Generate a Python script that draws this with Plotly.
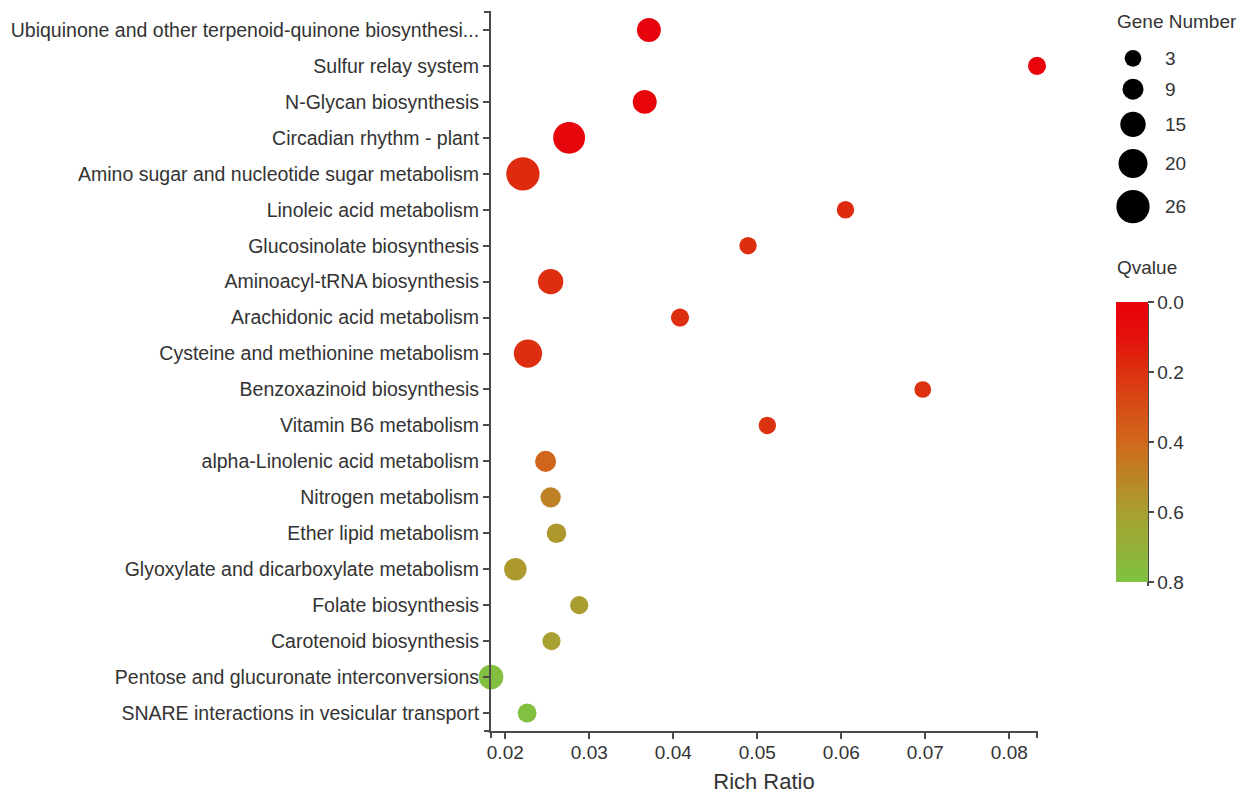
import plotly.graph_objects as go

# ---------------- data ----------------
pathways = [
    "Ubiquinone and other terpenoid-quinone biosynthesi...",
    "Sulfur relay system",
    "N-Glycan biosynthesis",
    "Circadian rhythm - plant",
    "Amino sugar and nucleotide sugar metabolism",
    "Linoleic acid metabolism",
    "Glucosinolate biosynthesis",
    "Aminoacyl-tRNA biosynthesis",
    "Arachidonic acid metabolism",
    "Cysteine and methionine metabolism",
    "Benzoxazinoid biosynthesis",
    "Vitamin B6 metabolism",
    "alpha-Linolenic acid metabolism",
    "Nitrogen metabolism",
    "Ether lipid metabolism",
    "Glyoxylate and dicarboxylate metabolism",
    "Folate biosynthesis",
    "Carotenoid biosynthesis",
    "Pentose and glucuronate interconversions",
    "SNARE interactions in vesicular transport",
]
rich_ratio = [0.0371, 0.0833, 0.0366, 0.0276, 0.0221, 0.0605, 0.0489, 0.0254, 0.0408, 0.0227,
              0.0697, 0.0512, 0.0248, 0.0254, 0.0261, 0.0212, 0.0288, 0.0255, 0.0183, 0.0226]
gene_number = [13, 5, 13, 24, 26, 4, 4, 15, 5, 19, 3, 4, 9, 8, 7, 11, 5, 5, 14, 6]
qvalue = [0.02, 0.03, 0.03, 0.04, 0.18, 0.18, 0.19, 0.19, 0.19, 0.19, 0.20, 0.20,
          0.39, 0.49, 0.57, 0.58, 0.59, 0.60, 0.78, 0.79]

x_ticks = [0.02, 0.03, 0.04, 0.05, 0.06, 0.07, 0.08]
legend_genes = [3, 9, 15, 20, 26]
q_tickvals = [0.0, 0.2, 0.4, 0.6, 0.8]
q_ticktext = ["0.0", "0.2", "0.4", "0.6", "0.8"]

# ---------------- layout helpers ----------------
W, H = 1247, 797
L, R, T, B = 491, 0, 12, 66
PW, PH = W - L - R, H - T - B
FONT = "Liberation Sans, Arial, sans-serif"
TXT = "#333333"
AX = "#4a4a4a"

CB_LEFT, CB_TOP, CB_LEN, CB_THICK = 1116, 305, 280, 32
CB_YFIX = 30  # compensation for plotly's colorbar vertical placement


def px_x(px):
    return (px - L) / PW


def px_y(py):
    return 1 - (py - T) / PH


def diam(n):
    return 16.7 + 0.722 * (n - 3)


colorscale = [
    [0.0, "#7fc241"],
    [0.25, "#a8a031"],
    [0.5, "#d0681c"],
    [0.75, "#dc3210"],
    [0.875, "#e4100b"],
    [1.0, "#e8000b"],
]

fig = go.Figure()

fig.add_trace(go.Scatter(
    x=rich_ratio,
    y=pathways,
    mode="markers",
    cliponaxis=False,
    marker=dict(
        size=[diam(n) for n in gene_number],
        sizemode="diameter",
        color=[-q for q in qvalue],
        cmin=-max(q_tickvals),
        cmax=0,
        colorscale=colorscale,
        opacity=1,
        line=dict(width=0),
        colorbar=dict(
            xref="container", yref="container",
            x=CB_LEFT / W, xanchor="left",
            y=1 - (CB_TOP + CB_YFIX) / H, yanchor="top",
            len=CB_LEN, lenmode="pixels",
            thickness=CB_THICK, thicknessmode="pixels",
            xpad=0, ypad=0,
            outlinewidth=0,
            ticks="outside", ticklen=6, tickwidth=2, tickcolor=AX,
            tickvals=[-v for v in q_tickvals],
            ticktext=q_ticktext,
            tickfont=dict(family=FONT, size=19, color=TXT),
        ),
    ),
    showlegend=False,
    hoverinfo="skip",
))

# size legend
centers = []
pad = 12
for i, n in enumerate(legend_genes):
    if i == 0:
        centers.append(58.3)
    else:
        centers.append(centers[-1] + (diam(legend_genes[i - 1]) + diam(n)) / 2 + pad)

fig.add_trace(go.Scatter(
    x=[1133] * len(legend_genes),
    y=centers,
    xaxis="x2", yaxis="y2",
    mode="markers",
    cliponaxis=False,
    marker=dict(size=[diam(n) for n in legend_genes], color="#000000", opacity=1,
                line=dict(width=0)),
    showlegend=False,
    hoverinfo="skip",
))

annotations = []
for c, n in zip(centers, legend_genes):
    annotations.append(dict(
        xref="x2", yref="y2", x=1163, y=c, xanchor="left", yanchor="middle",
        text=str(n), showarrow=False, font=dict(family=FONT, size=19, color=TXT)))
annotations.append(dict(
    xref="paper", yref="paper", x=px_x(1115), y=px_y(21), xanchor="left", yanchor="middle",
    text="Gene Number", showarrow=False, font=dict(family=FONT, size=19, color=TXT)))
annotations.append(dict(
    xref="paper", yref="paper", x=px_x(1115), y=px_y(268), xanchor="left", yanchor="middle",
    text="Qvalue", showarrow=False, font=dict(family=FONT, size=19, color=TXT)))

xdom_end = px_x(1037)
cb_right = CB_LEFT + CB_THICK

shapes = [
    # colorbar right edge line
    dict(type="line", xref="paper", yref="paper",
         x0=px_x(cb_right), x1=px_x(cb_right), y0=px_y(CB_TOP - 1), y1=px_y(CB_TOP + CB_LEN + 1),
         line=dict(color=AX, width=2)),
    # y axis outer ticks (top & bottom)
    dict(type="line", xref="paper", yref="paper", xsizemode="pixel", xanchor=0,
         x0=-7, x1=0, y0=1, y1=1, line=dict(color=AX, width=2)),
    dict(type="line", xref="paper", yref="paper", xsizemode="pixel", xanchor=0,
         x0=-7, x1=0, y0=0, y1=0, line=dict(color=AX, width=2)),
    # x axis outer ticks (left & right)
    dict(type="line", xref="paper", yref="paper", ysizemode="pixel", yanchor=0,
         x0=0, x1=0, y0=-7, y1=0, line=dict(color=AX, width=2)),
    dict(type="line", xref="paper", yref="paper", ysizemode="pixel", yanchor=0,
         x0=xdom_end, x1=xdom_end, y0=-7, y1=0, line=dict(color=AX, width=2)),
]

fig.update_layout(
    width=W, height=H,
    margin=dict(l=L, r=R, t=T, b=B, autoexpand=False),
    paper_bgcolor="white", plot_bgcolor="white",
    font=dict(family=FONT, size=19, color=TXT),
    xaxis=dict(
        domain=[0, xdom_end],
        range=[min(rich_ratio), max(rich_ratio)],
        tickvals=x_ticks, tickformat=".2f",
        showgrid=False, zeroline=False,
        showline=True, linecolor=AX, linewidth=2,
        ticks="outside", ticklen=6, tickwidth=2, tickcolor=AX,
        tickfont=dict(family=FONT, size=19, color=TXT),
        ticklabelstandoff=-3,
        title=dict(text="Rich Ratio", font=dict(family=FONT, size=22, color=TXT), standoff=12),
        automargin=False,
        anchor="y",
    ),
    yaxis=dict(
        type="category",
        categoryorder="array", categoryarray=pathways,
        range=[len(pathways) - 0.5, -0.5],
        showgrid=False, zeroline=False,
        showline=True, linecolor=AX, linewidth=2,
        ticks="outside", ticklen=6, tickwidth=2, tickcolor=AX,
        tickfont=dict(family=FONT, size=19.5, color=TXT),
        automargin=False,
        anchor="x",
    ),
    xaxis2=dict(domain=[px_x(1100), px_x(1175)], range=[1100, 1175], visible=False,
                anchor="y2", fixedrange=True),
    yaxis2=dict(domain=[px_y(235), px_y(35)], range=[235, 35], visible=False,
                anchor="x2", fixedrange=True),
    annotations=annotations,
    shapes=shapes,
)

fig.write_html("out.html")
